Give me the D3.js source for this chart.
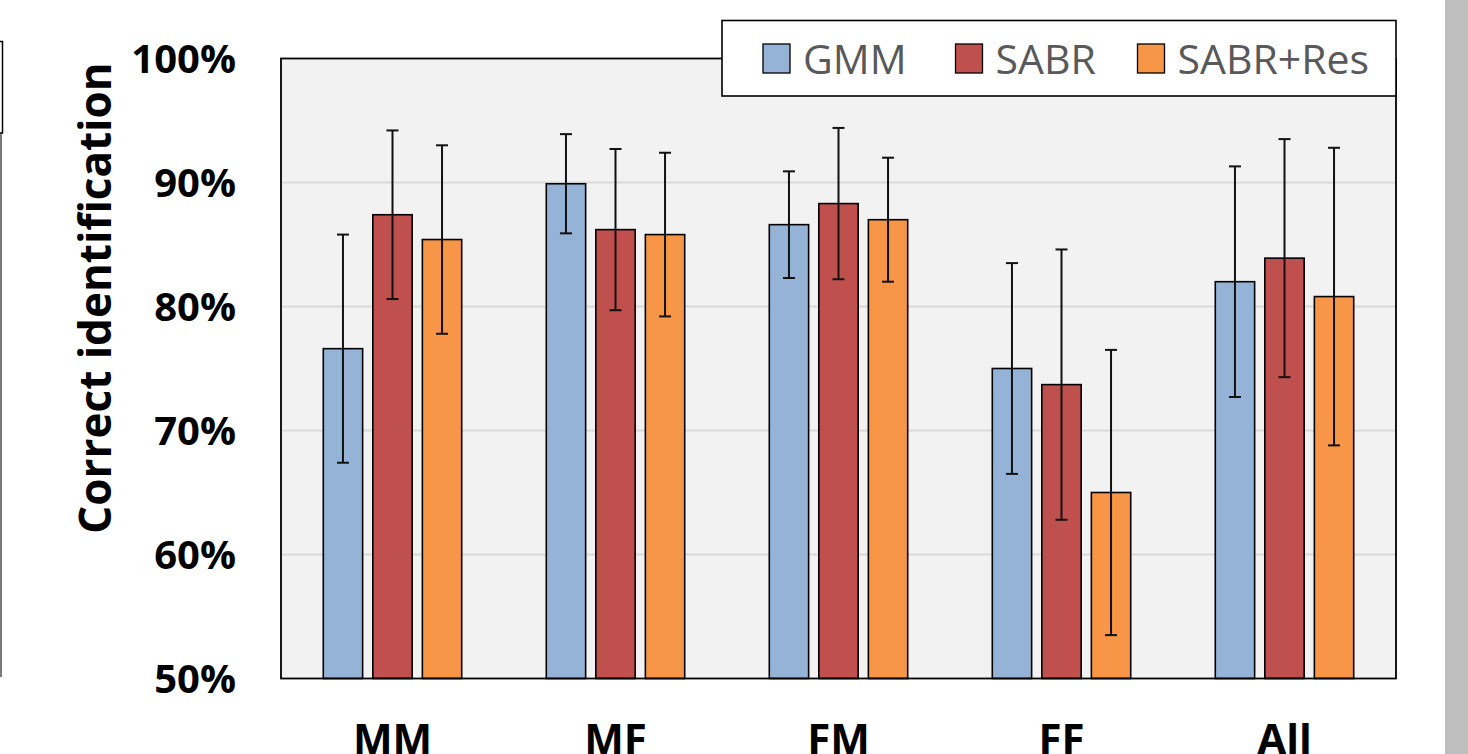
<!DOCTYPE html>
<html>
<head>
<meta charset="utf-8">
<script src="https://cdn.jsdelivr.net/npm/d3@7"></script>
<style>
  html, body { margin: 0; padding: 0; background: #ffffff; }
  svg { display: block; }
</style>
</head>
<body>
<script>
// ---- data ----
const categories = ["MM", "MF", "FM", "FF", "All"];
const seriesNames = ["GMM", "SABR", "SABR+Res"];
const gmmValues = [76.6, 89.9, 86.6, 75.0, 82.0];
const gmmErrors = [9.2, 4.0, 4.3, 8.5, 9.3];
const sabrValues = [87.4, 86.2, 88.3, 73.7, 83.9];
const sabrErrors = [6.8, 6.5, 6.1, 10.9, 9.6];
const sabrResValues = [85.4, 85.8, 87.0, 65.0, 80.8];
const sabrResErrors = [7.6, 6.6, 5.0, 11.5, 12.0];
const yTickValues = [50, 60, 70, 80, 90, 100];
const yAxisTitle = "Correct identification";

// ---- styling ----
const colors = { "GMM": "#95b3d7", "SABR": "#c0504d", "SABR+Res": "#f79646" };
const W = 1468, H = 754;
const plot = { left: 281, right: 1396, top: 58.5, bottom: 678.5 };

const valuesBySeries = { "GMM": gmmValues, "SABR": sabrValues, "SABR+Res": sabrResValues };
const errorsBySeries = { "GMM": gmmErrors, "SABR": sabrErrors, "SABR+Res": sabrResErrors };

const rows = [];
categories.forEach((c, i) => {
  seriesNames.forEach(s => {
    rows.push({ cat: c, series: s, value: valuesBySeries[s][i], err: errorsBySeries[s][i] });
  });
});

const svg = d3.select("body").append("svg").attr("width", W).attr("height", H);

const x0 = d3.scaleBand().domain(categories).range([plot.left, plot.right]).padding(0);
const x1 = d3.scaleBand().domain(seriesNames).range([42.3, 180.7]).paddingInner(0.206).paddingOuter(0);
const y = d3.scaleLinear().domain([50, 100]).range([plot.bottom, plot.top]);

// left artifact (edge of neighbouring panel)
svg.append("rect").attr("x", -10).attr("y", 41.5).attr("width", 12.5).attr("height", 91.5)
  .attr("fill", "none").attr("stroke", "#000").attr("stroke-width", 1.5);
svg.append("line").attr("x1", 1).attr("x2", 1).attr("y1", 133).attr("y2", 677)
  .attr("stroke", "#222").attr("stroke-width", 1.2);

// right grey band
svg.append("rect").attr("x", 1445).attr("y", 0).attr("width", W - 1445).attr("height", H).attr("fill", "#bfbfbf");

// plot background
svg.append("rect").attr("x", plot.left).attr("y", y(100)).attr("width", plot.right - plot.left)
  .attr("height", y(50) - y(100)).attr("fill", "#f2f2f2");

// gridlines
svg.append("g").selectAll("line").data(yTickValues.filter(v => v > 50 && v < 100)).join("line")
  .attr("x1", plot.left).attr("x2", plot.right)
  .attr("y1", d => y(d)).attr("y2", d => y(d))
  .attr("stroke", "#d9d9d9").attr("stroke-width", 1.8);

// bars
const bars = svg.append("g");
bars.selectAll("rect").data(rows).join("rect")
  .attr("x", d => x0(d.cat) + x1(d.series))
  .attr("y", d => y(d.value))
  .attr("width", x1.bandwidth())
  .attr("height", d => y(50) - y(d.value))
  .attr("fill", d => colors[d.series])
  .attr("stroke", "#000").attr("stroke-width", 1.6);

// error bars
const eb = svg.append("g").attr("stroke", "#111").attr("stroke-width", 2);
rows.forEach(d => {
  const cx = x0(d.cat) + x1(d.series) + x1.bandwidth() / 2;
  const yt = y(d.value + d.err), yb = y(d.value - d.err);
  eb.append("line").attr("x1", cx).attr("x2", cx).attr("y1", yt).attr("y2", yb);
  eb.append("line").attr("x1", cx - 6).attr("x2", cx + 6).attr("y1", yt).attr("y2", yt);
  eb.append("line").attr("x1", cx - 6).attr("x2", cx + 6).attr("y1", yb).attr("y2", yb);
});

// plot border
svg.append("rect").attr("x", plot.left).attr("y", y(100)).attr("width", plot.right - plot.left)
  .attr("height", y(50) - y(100)).attr("fill", "none").attr("stroke", "#000").attr("stroke-width", 1.8);

// y axis labels
const yAxis = d3.axisLeft(y).tickValues(yTickValues).tickFormat(d => d + "%").tickSize(0).tickPadding(0);
const yg = svg.append("g").attr("transform", "translate(236,0)").call(yAxis);
yg.select(".domain").remove();
yg.selectAll("text")
  .attr("font-family", "'Open Sans', sans-serif").attr("font-weight", "bold")
  .attr("font-size", 40).attr("fill", "#000").attr("dy", "0.36em");

// y axis title
svg.append("text")
  .attr("transform", "translate(111,298) rotate(-90)")
  .attr("text-anchor", "middle")
  .attr("font-family", "'Open Sans', sans-serif").attr("font-weight", "bold")
  .attr("font-size", 44).attr("fill", "#000")
  .text(yAxisTitle);

// x axis labels
const xAxis = d3.axisBottom(x0).tickSize(0).tickPadding(0);
const xg = svg.append("g").attr("transform", "translate(0,754)").call(xAxis);
xg.select(".domain").remove();
xg.selectAll("text")
  .attr("y", 0).attr("dy", "0")
  .attr("font-family", "'Open Sans', sans-serif").attr("font-weight", "bold")
  .attr("font-size", 42).attr("fill", "#000");

// legend
const legend = svg.append("g");
legend.append("rect").attr("x", 722).attr("y", 20.5).attr("width", 674).attr("height", 75.5)
  .attr("fill", "#fff").attr("stroke", "#000").attr("stroke-width", 1.6);
const legendX = { "GMM": 763, "SABR": 955.5, "SABR+Res": 1137.5 };
seriesNames.forEach(s => {
  legend.append("rect").attr("x", legendX[s]).attr("y", 44).attr("width", 27).attr("height", 29)
    .attr("fill", colors[s]).attr("stroke", "#000").attr("stroke-width", 1.3);
  legend.append("text").attr("x", legendX[s] + 40).attr("y", 73.5)
    .attr("font-family", "'Open Sans', sans-serif").attr("font-size", 41)
    .attr("fill", "#595959").text(s);
});
</script>
</body>
</html>
